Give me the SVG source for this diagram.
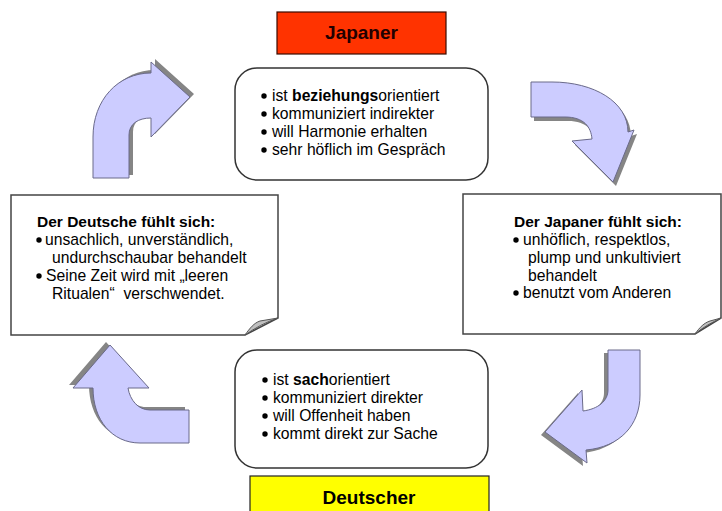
<svg xmlns="http://www.w3.org/2000/svg" width="722" height="511" viewBox="0 0 722 511">
<style>
  text { font-family: "Liberation Sans", Arial, sans-serif; fill: #000; }
  .t { font-size: 15.7px; }
  .h { font-size: 15.5px; font-weight: bold; }
  .title { font-size: 19px; font-weight: bold; text-anchor: middle; }
  .round { fill: #fff; stroke: #333; stroke-width: 1.5; }
  .note { fill: #fff; stroke: #444; stroke-width: 1.5; stroke-linejoin: miter; }
  .curl { fill: #c0c0c0; stroke: #555; stroke-width: 1; }
  .arrow { fill: #ccccff; stroke: #6a6a8a; stroke-width: 1; stroke-linejoin: miter; }
  .shadow { fill: #858585; stroke: none; }
  .b { fill: #000; }
</style>

<rect width="722" height="511" fill="#fff"/>

<g id="connectors">
  <g id="arrow-tl">
    <path class="shadow" transform="translate(4,-3)" d="M93,178 L93,137 C93,100 118,73 151,73 L151,62 L190,97 L151,137 L151,118 C138,118 129,124 129,135 L129,178 Z"/>
    <path class="arrow" d="M93,178 L93,137 C93,100 118,73 151,73 L151,62 L190,97 L151,137 L151,118 C138,118 129,124 129,135 L129,178 Z"/>
  </g>
  <g id="arrow-tr">
    <path class="shadow" transform="translate(3,4)" d="M531,82 L552,82 C594,82 628,102 628,132 L634,130 L613,182 L572,141 L592,139 C591,127 584,117 565,117 L531,117 Z"/>
    <path class="arrow" d="M531,82 L552,82 C594,82 628,102 628,132 L634,130 L613,182 L572,141 L592,139 C591,127 584,117 565,117 L531,117 Z"/>
  </g>
  <g id="arrow-br">
    <path class="shadow" transform="translate(-4,3)" d="M608,350 L640,350 L640,395 C640,425 620,447 586,450 L587,463 L545,432 L582,390 L583,411 C598,409 608,401 608,390 Z"/>
    <path class="arrow" d="M608,350 L640,350 L640,395 C640,425 620,447 586,450 L587,463 L545,432 L582,390 L583,411 C598,409 608,401 608,390 Z"/>
  </g>
  <g id="arrow-bl">
    <path class="shadow" transform="translate(-4,-3)" d="M189,410 L189,443 L140,443 C112,443 93,420 93,388 L73,388 L110,345 L149,388 L128,388 C130,400 138,410 150,410 Z"/>
    <path class="arrow" d="M189,410 L189,443 L140,443 C112,443 93,420 93,388 L73,388 L110,345 L149,388 L128,388 C130,400 138,410 150,410 Z"/>
  </g>
</g>

<g id="japaner">
  <rect x="277" y="12" width="169" height="42" fill="#ff3300" stroke="#3a0a00" stroke-width="1.2"/>
  <text class="title" x="361.5" y="39" style="fill:#220000">Japaner</text>
</g>

<g id="japaner-traits">
  <rect class="round" x="235" y="68" width="253" height="112" rx="22" ry="22"/>
  <circle class="b" cx="264" cy="96" r="2.7"/>
  <text class="t" x="272" y="101">ist <tspan font-weight="bold">beziehungs</tspan>orientiert</text>
  <circle class="b" cx="264" cy="114" r="2.7"/>
  <text class="t" x="272" y="119">kommuniziert indirekter</text>
  <circle class="b" cx="264" cy="132" r="2.7"/>
  <text class="t" x="272" y="137">will Harmonie erhalten</text>
  <circle class="b" cx="264" cy="150" r="2.7"/>
  <text class="t" x="272" y="155">sehr höflich im Gespräch</text>
</g>

<g id="deutsche-fuehlt">
  <path class="note" d="M11,195 L278,195 L278,318 L245,335 L11,335 Z"/>
  <path class="curl" d="M245,335 C250,328 254,323 260,321 L278,318 C266,322 255,328 245,335 Z"/>
  <text class="h" x="37" y="227">Der Deutsche fühlt sich:</text>
  <circle class="b" cx="39" cy="240" r="2.7"/>
  <text class="t" x="45" y="245">unsachlich, unverständlich,</text>
  <text class="t" x="52" y="263">undurchschaubar behandelt</text>
  <circle class="b" cx="39" cy="276" r="2.7"/>
  <text class="t" x="46" y="281">Seine Zeit wird mit „leeren</text>
  <text class="t" x="52" y="299">Ritualen“&#160; verschwendet.</text>
</g>

<g id="japaner-fuehlt">
  <path class="note" d="M463,194 L721,194 L721,318 L695,334 L463,334 Z"/>
  <path class="curl" d="M695,334 C700,327 704,323 710,321 L721,318 C713,322 703,327 695,334 Z"/>
  <text class="h" x="514" y="227">Der Japaner fühlt sich:</text>
  <circle class="b" cx="516" cy="240" r="2.7"/>
  <text class="t" x="523" y="245">unhöflich, respektlos,</text>
  <text class="t" x="528" y="263">plump und unkultiviert</text>
  <text class="t" x="528" y="281">behandelt</text>
  <circle class="b" cx="516" cy="293" r="2.7"/>
  <text class="t" x="523" y="298">benutzt vom Anderen</text>
</g>

<g id="deutscher-traits">
  <rect class="round" x="235" y="350" width="253" height="118" rx="22" ry="22"/>
  <circle class="b" cx="265" cy="380" r="2.7"/>
  <text class="t" x="273" y="385">ist <tspan font-weight="bold">sach</tspan>orientiert</text>
  <circle class="b" cx="265" cy="398" r="2.7"/>
  <text class="t" x="273" y="403">kommuniziert direkter</text>
  <circle class="b" cx="265" cy="416" r="2.7"/>
  <text class="t" x="273" y="421">will Offenheit haben</text>
  <circle class="b" cx="265" cy="434" r="2.7"/>
  <text class="t" x="273" y="439">kommt direkt zur Sache</text>
</g>

<g id="deutscher">
  <rect x="250" y="476" width="239" height="40" fill="#ffff00" stroke="#222" stroke-width="1.2"/>
  <text class="title" x="369" y="504">Deutscher</text>
</g>
</svg>
